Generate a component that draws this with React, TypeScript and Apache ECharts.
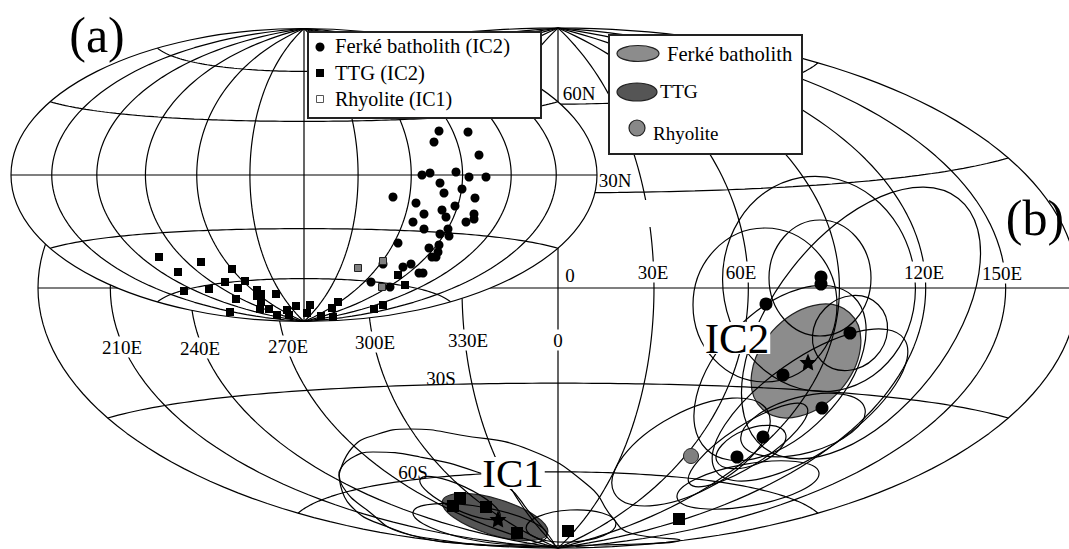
import React, { useEffect, useRef } from "react";
import * as echarts from "echarts";

const W = 1069;
const H = 549;

// Projection frames: [centre x, centre y, half width]
const frameA = [304, 175, 293];
const frameB = [558, 288, 520];
const meridians = [-180, -150, -120, -90, -60, -30, 0, 30, 60, 90, 120, 150, 180];
const parallels = [-60, -30, 0, 30, 60];

// Panel (a), poles
const circlesA = [
  [439,131],[468,132],[434,142],[479,155],[422,175],[430,173],[456,172],[469,177],[486,177],[440,183],
  [444,193],[462,189],[393,197],[475,198],[416,203],[455,206],[442,210],[424,214],[446,217],[413,222],
  [474,214],[474,219],[466,222],[424,229],[448,229],[440,234],[449,236],[398,243],[439,245],[429,248],
  [438,252],[432,257],[436,257],[411,264],[403,267],[419,273],[423,273],[383,264],[390,287],[371,282],
];
const squaresA = [
  [159,257],[178,272],[201,262],[232,269],[245,281],[225,282],[238,288],[209,289],[184,291],[236,299],
  [257,290],[261,294],[257,296],[261,302],[276,294],[260,309],[269,309],[230,312],[287,310],[277,315],
  [289,315],[296,306],[310,305],[307,313],[321,316],[333,317],[332,308],[338,302],[374,309],[383,305],
  [398,275],[405,285],
];
const greySquaresA = [[383,261],[382,287],[358,268]];

// Panel (b), poles
const circlesB = [[821,277],[821,284],[766,304],[850,333],[783,375],[822,408],[763,437],[737,457]];
const squaresB = [[679,519],[568,531],[517,533],[486,507],[460,498],[453,506]];
const rhyoliteB = [[691,456]];
const meanPoles = [[808,362],[498,519]];

// [cx, cy, semi-major, semi-minor, tilt in degrees]
const filledEllipses = [
  [806, 361, 65, 45, 48, "#8c8c8c"],
  [495, 517, 55, 18, -17, "#555555"],
];
const confidenceEllipses = [
  [819,284,108,96,100],
  [765,305,77,72,90],
  [820,278,58,51,90],
  [850,333,40,35,45],
  [810,405,115,46,35],
  [861,323,158,88,52],
  [780,373,106,62,46],
  [803,425,64,28,15],
  [751,447,37,18,22],
  [748,485,72,21,10],
  [748,445,70,20,33],
  [691,452,87,40,28],
  [571,526,45,16,3],
  [460,498,44,12,-25],
  [480,524,68,17,-10],
];
const ringOne = [[339,475],[352,448],[375,435],[410,429],[460,435],[530,450],[590,487],[612,517],[630,533],[680,540],[600,545],[520,546],[440,540],[388,527],[350,505],[339,475]];
const ringTwo = [[339,472],[350,459],[373,452],[420,457],[477,472],[508,487],[530,513],[547,533],[556,547],[490,545],[403,533],[367,510],[343,487],[339,472]];

// Gaps in the graticule: [x, y, w, h]
const gaps = [[640, 200, 12, 27]];

// Legends: [x, y, w, h]
const legendBoxes = [[308, 32, 233, 86], [609, 35, 193, 119]];
const legendEllipses = [
  [638, 53.5, 21, 8, 0, "#8c8c8c"],
  [637, 92, 20, 9, 0, "#555555"],
  [637, 128, 8, 8, 0, "#888888"],
];
const legendCircle = [[320, 47]];
const legendSquare = [[320, 73]];
const legendOpenSquare = [[320, 99]];

// Texts: [x, y, text, size, masked, lineHeight, left aligned]
const texts: [number, number, string, number, boolean, number | undefined, boolean?][] = [
  [97, 35, "(a)", 50, false, undefined],
  [1035, 218, "(b)", 50, false, undefined],
  [335, 46, "Ferké batholith (IC2)", 20.6, false, undefined, true],
  [335, 73, "TTG (IC2)", 20.6, false, undefined, true],
  [335, 99, "Rhyolite (IC1)", 20, false, undefined, true],
  [667, 54, "Ferké batholith", 20.6, false, undefined, true],
  [660, 91, "TTG", 19.5, false, undefined, true],
  [653, 133, "Rhyolite", 19, false, undefined, true],
  [579, 93, "60N", 19, false, undefined],
  [615, 180, "30N", 19, false, undefined],
  [570, 275, "0", 19, false, undefined],
  [653, 272, "30E", 19, true, undefined],
  [741, 272, "60E", 19, true, undefined],
  [924, 272, "120E", 19, true, undefined],
  [1002, 273, "150E", 19, true, undefined],
  [122, 347, "210E", 19, true, undefined],
  [200, 348, "240E", 19, true, undefined],
  [288, 346, "270E", 19, true, undefined],
  [375, 342, "300E", 19, true, undefined],
  [468, 340, "330E", 19, true, undefined],
  [558, 340, "0", 19, true, undefined],
  [441, 378, "30S", 19, false, undefined],
  [413, 472, "60S", 19, false, undefined],
  [737, 338, "IC2", 43, true, 30],
  [513, 473, "IC1", 41, true, 30],
];

const rad = Math.PI / 180;
function hammer(frame: number[], lon: number, lat: number) {
  const c = Math.cos(lat * rad);
  const d = Math.sqrt(1 + c * Math.cos((lon * rad) / 2));
  return [
    frame[0] + (frame[2] * c * Math.sin((lon * rad) / 2)) / d,
    frame[1] - ((frame[2] / 2) * Math.sin(lat * rad)) / d,
  ];
}
function graticule(frame: number[]) {
  const out: number[][][] = [];
  for (const lon of meridians) {
    const pts: number[][] = [];
    for (let lat = -90; lat <= 90; lat += 2) pts.push(hammer(frame, lon, lat));
    out.push(pts);
  }
  for (const lat of parallels) {
    const pts: number[][] = [];
    for (let lon = -180; lon <= 180; lon += 3) pts.push(hammer(frame, lon, lat));
    out.push(pts);
  }
  return out;
}
const LINE = 1.2;
const lineSeries = (data: number[][], smooth = false) => ({
  type: "line",
  data,
  smooth,
  showSymbol: false,
  symbol: "none",
  silent: true,
  clip: true,
  lineStyle: { color: "#000", width: LINE },
});
const ellipseSeries = (rows: any[], fill: string | null, stroke: string, lw = LINE) => ({
  type: "custom",
  silent: true,
  clip: true,
  data: rows.map((r) => [r[0], r[1]]),
  renderItem: (p: any, api: any) => {
    const r = rows[p.dataIndex];
    const c = api.coord([r[0], r[1]]);
    return {
      type: "ellipse",
      x: c[0],
      y: c[1],
      rotation: (r[4] * Math.PI) / 180,
      shape: { cx: 0, cy: 0, rx: r[2], ry: r[3] },
      style: { fill: fill === null ? r[5] || "none" : fill, stroke, lineWidth: lw },
    };
  },
});
const rectSeries = (rows: number[][], stroke: string, lw: number) => ({
  type: "custom",
  silent: true,
  clip: false,
  data: rows.map((r) => [r[0], r[1]]),
  renderItem: (p: any, api: any) => {
    const r = rows[p.dataIndex];
    const c = api.coord([r[0], r[1]]);
    return {
      type: "rect",
      shape: { x: c[0], y: c[1], width: r[2], height: r[3] },
      style: { fill: "#fff", stroke, lineWidth: lw },
    };
  },
});
const marks = (data: number[][], symbol: string, size: number, color: string, border = "#000", bw = 0) => ({
  type: "scatter",
  data,
  symbol,
  symbolSize: size,
  silent: true,
  itemStyle: { color, borderColor: border, borderWidth: bw, opacity: 1 },
});
const STAR =
  "path://M0,-10L2.9,-3.1L9.5,-3.1L4.7,1.5L5.9,8.1L0,4.8L-5.9,8.1L-4.7,1.5L-9.5,-3.1L-2.9,-3.1Z";

export default function App() {
  const ref = useRef<HTMLDivElement>(null);
  useEffect(() => {
    document.body.style.margin = "0";
    document.body.style.background = "#fff";
    const chart = echarts.init(ref.current!, undefined, { renderer: "svg" });
    const series: any[] = [
      ellipseSeries(filledEllipses, null, "#222"),
      ...graticule(frameB).map((d) => lineSeries(d)),
      ellipseSeries(confidenceEllipses, "none", "#000"),
      lineSeries(ringOne, true),
      lineSeries(ringTwo, true),
      rectSeries(gaps, "#fff", 0),
      ellipseSeries([[frameA[0], frameA[1], frameA[2], frameA[2] / 2, 0]], "#fff", "#000"),
      ...graticule(frameA).slice(1, -6).map((d) => lineSeries(d)),
      ...graticule(frameA).slice(-5).map((d) => lineSeries(d)),
      marks(circlesA, "circle", 9, "#000"),
      marks(squaresA, "rect", 8, "#000"),
      marks(greySquaresA, "rect", 7, "#808080", "#222", 1),
      marks(circlesB, "circle", 13, "#000"),
      marks(squaresB, "rect", 12, "#000"),
      marks(rhyoliteB, "circle", 15, "#808080", "#222", 1),
      marks(meanPoles, STAR, 17, "#000"),
      rectSeries(legendBoxes, "#222", 2),
      ellipseSeries(legendEllipses, null, "#222"),
      marks(legendCircle, "circle", 9, "#000"),
      marks(legendSquare, "rect", 8, "#000"),
      marks(legendOpenSquare, "rect", 7, "#fff", "#555", 1),
      {
        type: "custom",
        silent: true,
        clip: false,
        data: texts.map((t) => [t[0], t[1]]),
        renderItem: (p: any, api: any) => {
          const t = texts[p.dataIndex];
          const c = api.coord([t[0], t[1]]);
          return {
            type: "text",
            x: c[0],
            y: c[1],
            style: {
              text: t[2],
              fontFamily: "Liberation Serif",
              fontSize: t[3],
              fill: "#000",
              align: t[6] ? "left" : "center",
              verticalAlign: "middle",
              lineHeight: t[5],
              backgroundColor: t[4] ? "#fff" : undefined,
              padding: t[4] ? [1, 1, 1, 1] : 0,
            },
          };
        },
      },
    ];
    series.forEach((s, i) => {
      s.z = 2 + i;
    });
    chart.setOption({
      animation: false,
      backgroundColor: "#fff",
      grid: { left: 0, right: 0, top: 0, bottom: 0 },
      xAxis: { type: "value", min: 0, max: W, show: false },
      yAxis: { type: "value", min: 0, max: H, inverse: true, show: false },
      series,
    });
    return () => chart.dispose();
  }, []);
  return <div ref={ref} style={{ position: "absolute", left: 0, top: 0, width: W, height: H }} />;
}
